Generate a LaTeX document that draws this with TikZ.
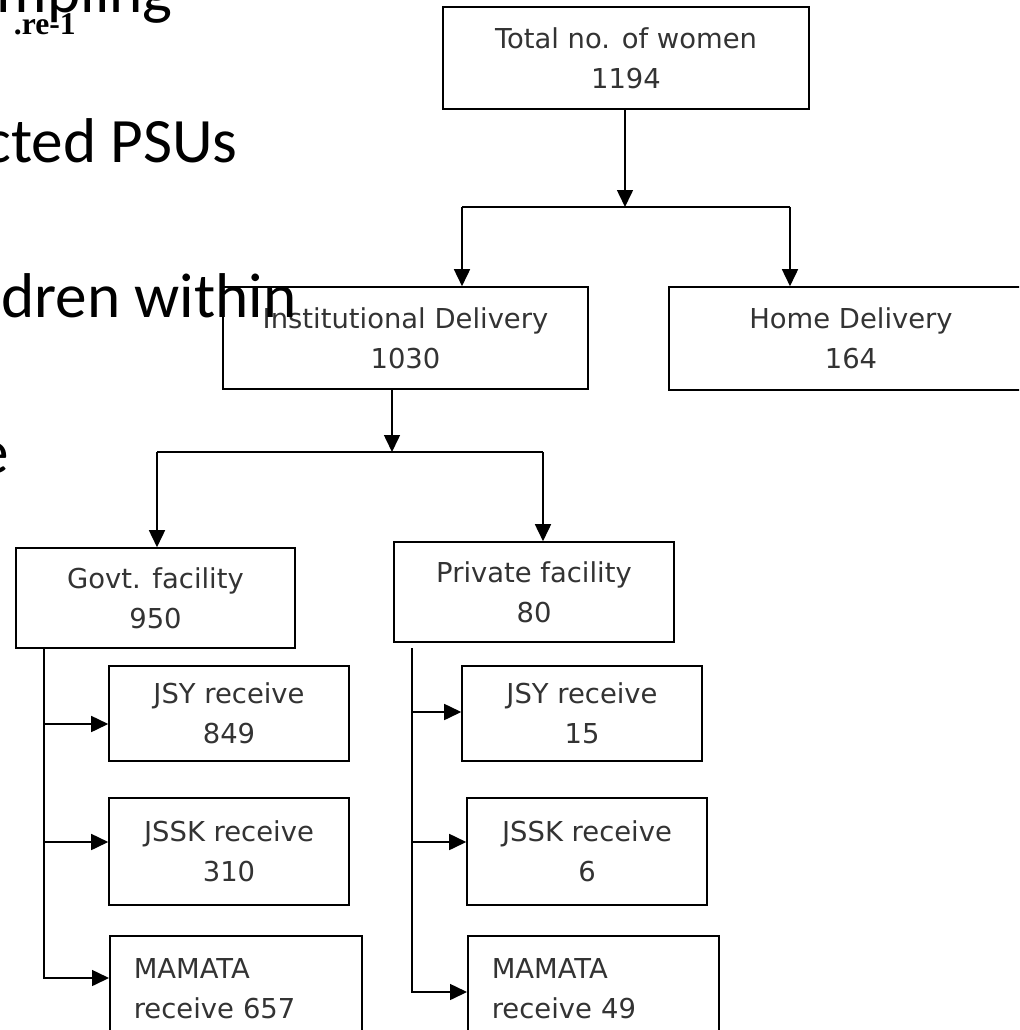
\documentclass[tikz,border=0pt]{standalone}
\usepackage{fontspec}
\usepackage{tikz}
\usetikzlibrary{arrows.meta, positioning, calc}
\newfontfamily\boxfont{DejaVu Sans}
\newfontfamily\slidefont{Carlito}
\newfontfamily\capfont{Liberation Serif}

\begin{document}
\begin{tikzpicture}[x=0.02cm, y=-0.02cm, >={Triangle[length=3.4mm, width=3.2mm]},
    box/.style={draw, line width=0.9pt, align=center, inner sep=0pt, text=black!80, font={\boxfont\fontsize{15.6}{22.8}\selectfont}},
    slide/.style={anchor=base east, inner sep=0pt, font={\slidefont\fontsize{36}{43}\selectfont}},
    link/.style={line width=0.9pt}]
    \clip (0, 0) rectangle (1019, 1030);

    \node[box, minimum width=7.32cm, minimum height=2.04cm] (women) at (626, 58) {Total no. of women\\1194};
    \node[box, minimum width=7.3cm, minimum height=2.04cm] (inst) at (405.5, 338) {Institutional Delivery\\1030};
    \node[box, minimum width=7.28cm, minimum height=2.06cm] (home) at (851, 338.5) {Home Delivery\\164};

    \node[box, minimum width=5.58cm, minimum height=2cm] (govt) at (155.5, 598) {Govt. facility\\950};
    \node[box, minimum width=5.6cm, minimum height=2cm] (priv) at (534, 592) {Private facility\\80};

    \node[box, minimum width=4.8cm, minimum height=1.9cm] (jsy1) at (229, 713.5) {JSY receive\\849};
    \node[box, minimum width=4.8cm, minimum height=2.14cm] (jssk1) at (229, 851.5) {JSSK receive\\310};
    \node[box, anchor=north west, align=left, text width=4.08cm, inner xsep=0.48cm, minimum height=2.1cm] (mam1) at (109, 935) {MAMATA\\receive 657};

    \node[box, minimum width=4.8cm, minimum height=1.9cm] (jsy2) at (582, 713.5) {JSY receive\\15};
    \node[box, minimum width=4.8cm, minimum height=2.14cm] (jssk2) at (587, 851.5) {JSSK receive\\6};
    \node[box, anchor=north west, align=left, text width=4.06cm, inner xsep=0.48cm, minimum height=2.1cm] (mam2) at (467, 935) {MAMATA\\receive 49};

    \coordinate (j1) at (625, 207);
    \coordinate (j1L) at (462, 207);
    \coordinate (j1R) at (790, 207);
    \draw[->, link] (women.south -| j1) -- (j1);
    \draw[link] (j1L) -- (j1R);
    \draw[->, link] (j1L) -- (j1L |- inst.north);
    \draw[->, link] (j1R) -- (j1R |- home.north);

    \coordinate (j2) at (392, 452);
    \coordinate (j2L) at (157, 452);
    \coordinate (j2R) at (543, 452);
    \draw[->, link] (inst.south -| j2) -- (j2);
    \draw[link] (j2L) -- (j2R);
    \draw[->, link] (j2L) -- (j2L |- govt.north);
    \draw[->, link] (j2R) -- (j2R |- priv.north);

    \coordinate (g1) at (44, 724);
    \coordinate (g2) at (44, 842);
    \coordinate (g3) at (44, 978);
    \draw[->, link] (govt.south -| g3) -- (g3) -- (g3 -| mam1.west);
    \draw[->, link] (g1) -- (g1 -| jsy1.west);
    \draw[->, link] (g2) -- (g2 -| jssk1.west);

    \coordinate (p0) at (412, 648);
    \coordinate (p1) at (412, 712);
    \coordinate (p2) at (412, 842);
    \coordinate (p3) at (412, 992);
    \draw[->, link] (p0) -- (p3) -- (p3 -| mam2.west);
    \draw[->, link] (p1) -- (p1 -| jsy2.west);
    \draw[->, link] (p2) -- (p2 -| jssk2.west);

    \node[slide] (sampling) at (173, 13) {mpling};
    \node[anchor=base east, inner sep=0pt, font={\capfont\bfseries\fontsize{18}{21}\selectfont}] (figno) at (76, 35) {.re-1};
    \node[slide] (psus) at (238, 163) {cted PSUs};
    \node[slide] (within) at (297, 317) {dren within};
    \node[slide] (lastline) at (9, 473) {e};

\end{tikzpicture}
\end{document}
